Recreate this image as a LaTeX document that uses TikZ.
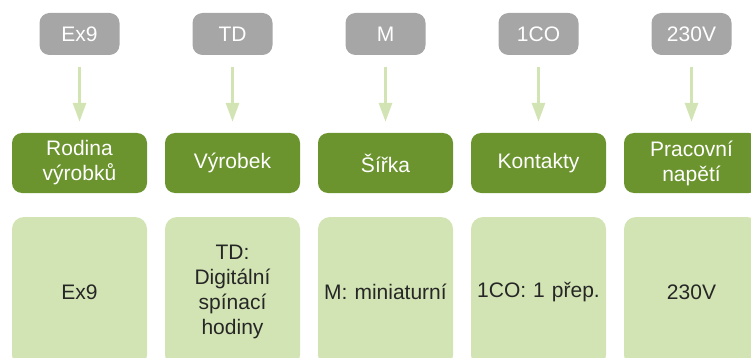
\documentclass[tikz,border=0pt]{standalone}
\usepackage{fontspec}
\setmainfont{Liberation Sans}
\usetikzlibrary{arrows.meta}
\definecolor{tagGray}{RGB}{166,166,166}
\definecolor{headGreen}{RGB}{107,148,46}
\definecolor{paleGreen}{RGB}{210,228,179}
\definecolor{darkText}{RGB}{38,38,38}
\tikzset{
  tagbox/.style={fill=tagGray, rounded corners=10pt, minimum width=80pt, minimum height=42pt, text=white, inner sep=0pt},
  headbox/.style={fill=headGreen, rounded corners=10pt, minimum width=135pt, minimum height=60pt, text=white, inner sep=0pt, align=center, text width=130pt},
  valbox/.style={fill=paleGreen, rounded corners=12pt, minimum width=135pt, minimum height=150pt, text=darkText, inner sep=0pt, align=center, text width=130pt},
  flow/.style={draw=paleGreen, line width=3pt, -{Triangle[length=19pt,width=13pt]}, shorten <=12pt, shorten >=11pt}
}
\begin{document}
\begin{tikzpicture}[x=1pt,y=-1pt, font=\fontsize{21}{25}\selectfont]
\useasboundingbox (0,0) rectangle (751,358);
\clip (0,0) rectangle (751,358);
\foreach \i/\tag/\head/\val in {
  0/Ex9/{Rodina\\výrobků}/Ex9,
  1/TD/Výrobek/{TD:\\Digitální\\spínací\\hodiny},
  2/M/Šířka/{M: miniaturní},
  3/1CO/Kontakty/{1CO: 1 přep.},
  4/230V/{Pracovní\\napětí}/230V}{
  \pgfmathsetmacro{\cx}{79.5+153*\i}
  \node[tagbox] (t\i) at (\cx,34) {\tag};
  \node[headbox] (h\i) at (\cx,163) {\head};
  \node[valbox] (v\i) at (\cx,292) {\val};
  \draw[flow] (t\i) -- (h\i);
}
\end{tikzpicture}
\end{document}
